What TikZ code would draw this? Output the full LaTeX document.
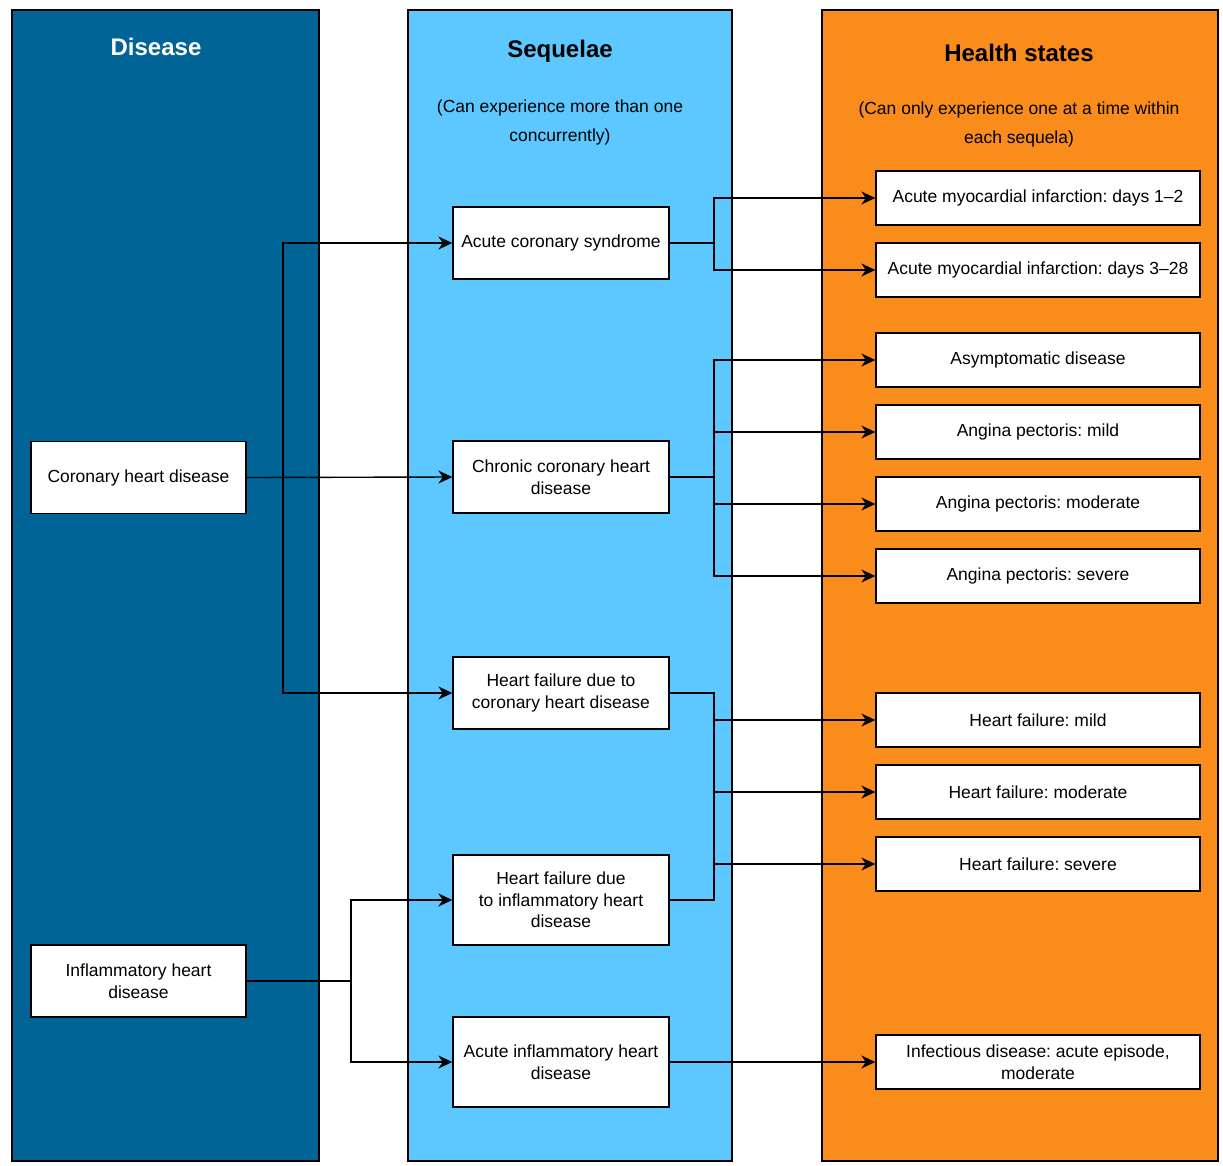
\documentclass[tikz,border=0pt]{standalone}
\usepackage{fontspec}
\setmainfont{Liberation Sans}
\usetikzlibrary{arrows.meta}
\definecolor{diseaseblue}{RGB}{0,100,150}
\definecolor{seqblue}{RGB}{92,200,255}
\definecolor{healthorange}{RGB}{250,140,28}
\frenchspacing
\begin{document}
\begin{tikzpicture}[x=1pt,y=-1pt,
  column/.style={draw=black,line width=1.6pt},
  title/.style={font=\fontsize{24}{28}\selectfont\bfseries},
  note/.style={font=\fontsize{17.5}{29}\selectfont,align=center},
  box/.style={draw=black,fill=white,line width=1.3pt,align=center,inner sep=0pt,
    font=\fontsize{17.5}{21.5}\selectfont},
  lbox/.style={box,minimum width=215pt,minimum height=72pt},
  mbox/.style={box,minimum width=216pt,minimum height=72pt},
  tbox/.style={box,minimum width=216pt,minimum height=90pt},
  rbox/.style={box,minimum width=324pt,minimum height=54pt},
  link/.style={line width=1.4pt},
  arr/.style={link,-{Stealth[length=14pt,width=13pt,inset=4.5pt]}}]
\useasboundingbox (0,0) rectangle (1223,1165);

% three columns
\draw[column,fill=diseaseblue] (12,10) rectangle (319,1161);
\draw[column,fill=seqblue] (408,10) rectangle (732,1161);
\draw[column,fill=healthorange] (822,10) rectangle (1218,1161);

\node[title,text=white] (tdis) at (156,47) {Disease};
\node[title] (tseq) at (560,51) {Sequelae};
\node[title] (thea) at (1019,53) {Health states};
\node[note] (nseq) at (560,122) {(Can experience more than one\\concurrently)};
\node[note] (nhea) at (1019,124) {(Can only experience one at a time within\\each sequela)};

% disease boxes
\node[lbox] (chd) at (138.5,477.5) {Coronary heart disease};
\node[lbox] (ihd) at (138.5,981) {Inflammatory heart\\disease};

% sequelae boxes
\node[mbox] (acs) at (561,243) {Acute coronary syndrome};
\node[mbox] (cchd) at (561,477) {Chronic coronary heart\\disease};
\node[mbox] (hfc) at (561,693) {Heart failure due to\\coronary heart disease};
\node[tbox] (hfi) at (561,900) {Heart failure due\\to inflammatory heart\\disease};
\node[tbox] (aihd) at (561,1062) {Acute inflammatory heart\\disease};

% health-state boxes
\node[rbox] (ami1) at (1038,198) {Acute myocardial infarction: days 1--2};
\node[rbox] (ami3) at (1038,270) {Acute myocardial infarction: days 3--28};
\node[rbox] (asym) at (1038,360) {Asymptomatic disease};
\node[rbox] (apmi) at (1038,432) {Angina pectoris: mild};
\node[rbox] (apmo) at (1038,504) {Angina pectoris: moderate};
\node[rbox] (apse) at (1038,576) {Angina pectoris: severe};
\node[rbox] (hfmi) at (1038,720) {Heart failure: mild};
\node[rbox] (hfmo) at (1038,792) {Heart failure: moderate};
\node[rbox] (hfse) at (1038,864) {Heart failure: severe};
\node[rbox] (inf) at (1038,1062) {Infectious disease: acute episode,\\moderate};

% branch lines
\coordinate (ja) at (283,0);
\coordinate (jb) at (351,0);
\coordinate (jc) at (714,0);

\draw[arr] (chd.east) -- (cchd.west);
\draw[arr] (chd.east -| ja) |- (acs.west);
\draw[arr] (chd.east -| ja) |- (hfc.west);

\draw[link] (ihd.east) -- (ihd.east -| jb);
\draw[arr] (ihd.east -| jb) |- (hfi.west);
\draw[arr] (ihd.east -| jb) |- (aihd.west);

\draw[link] (acs.east) -- (acs.east -| jc);
\draw[arr] (acs.east -| jc) |- (ami1.west);
\draw[arr] (acs.east -| jc) |- (ami3.west);

\draw[link] (cchd.east) -- (cchd.east -| jc);
\draw[arr] (cchd.east -| jc) |- (asym.west);
\draw[arr] (cchd.east -| jc) |- (apmi.west);
\draw[arr] (cchd.east -| jc) |- (apmo.west);
\draw[arr] (cchd.east -| jc) |- (apse.west);

\draw[link] (hfc.east) -| (hfi.east -| jc) -- (hfi.east);
\draw[arr] (hfc.east -| jc) |- (hfmi.west);
\draw[arr] (hfc.east -| jc) |- (hfmo.west);
\draw[arr] (hfc.east -| jc) |- (hfse.west);

\draw[arr] (aihd.east) -- (inf.west);
\end{tikzpicture}
\end{document}
